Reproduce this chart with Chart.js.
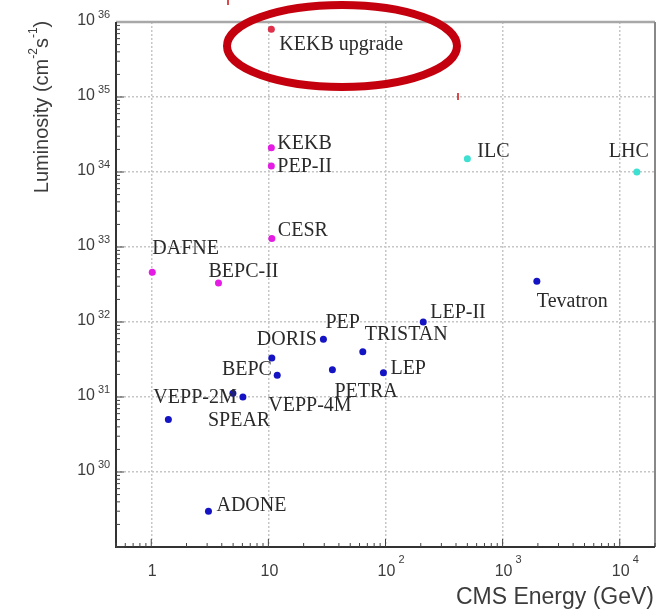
<!DOCTYPE html>
<html>
<head>
<meta charset="utf-8">
<script src="https://cdn.jsdelivr.net/npm/chart.js@4.4.1/dist/chart.umd.min.js"></script>
<style>
  html,body{margin:0;padding:0;background:#fff;}
  #wrap{width:669px;height:609px;}
</style>
</head>
<body>
<div id="wrap"><canvas id="lumiChart" width="669" height="609"></canvas></div>
<script>
// ===== data (energy in GeV, luminosity in cm^-2 s^-1) =====
const upgradeNames  = ["KEKB upgrade"];
const upgradeEnergy = [10.6];
const upgradeLumi   = [8e35];

const factoryNames  = ["KEKB","PEP-II","CESR","DAFNE","BEPC-II"];
const factoryEnergy = [10.6,10.6,10.7,1.02,3.75];
const factoryLumi   = [2.1e34,1.2e34,1.3e33,4.6e32,3.3e32];

const pastNames  = ["DORIS","VEPP-4M","BEPC","SPEAR","VEPP-2M","PEP","TRISTAN","PETRA","LEP","LEP-II","Tevatron","ADONE"];
const pastEnergy = [10.7,11.9,6.06,4.98,1.4,29.5,64,35.2,96,210,1960,3.08];
const pastLumi   = [3.3e31,1.95e31,1.0e31,1.12e31,5e30,5.9e31,4e31,2.3e31,2.1e31,1e32,3.5e32,3e29];

const futureNames  = ["ILC","LHC"];
const futureEnergy = [500,14000];
const futureLumi   = [1.5e34,1e34];

// tick labels: [base, exponent]
const xTickValues = [1,10,100,1000,10000];
const xTickLabels = [["1",""],["10",""],["10","2"],["10","3"],["10","4"]];
const yTickExps   = [30,31,32,33,34,35,36];

// label placement next to each marker (px from the point: left edge, middle)
const labelOffsets = {
  "KEKB upgrade":[8,15], "KEKB":[6,-4], "PEP-II":[6,1], "CESR":[6,-8], "DAFNE":[0,-24], "BEPC-II":[-10,-11],
  "DORIS":[-15,-18], "VEPP-4M":[-9,31], "BEPC":[-21,-27], "SPEAR":[-25,27], "VEPP-2M":[-15,-22],
  "PEP":[2,-16], "TRISTAN":[2,-17], "PETRA":[2,22], "LEP":[7,-4], "LEP-II":[7,-9],
  "Tevatron":[0,21], "ADONE":[8,-5], "ILC":[10,-7], "LHC":[-28,-20]
};

function pts(xs, ys){ return xs.map((x,i)=>({x:x, y:ys[i]})); }

// =========== decorations: frame, inward ticks, labels, titles ============
const decor = {
  id: "decor",
  afterDatasetsDraw(chart){
    const ctx = chart.ctx;
    ctx.save();
    ctx.font = "20px 'Liberation Serif'";
    ctx.fillStyle = "#2a2a2a";
    ctx.textBaseline = "middle";
    ctx.textAlign = "left";
    chart.data.datasets.forEach((ds,di)=>{
      chart.getDatasetMeta(di).data.forEach((el,i)=>{
        const name = ds.names[i];
        const off = labelOffsets[name] || [6,0];
        ctx.fillText(name, el.x+off[0], el.y+off[1]);
      });
    });
    ctx.restore();
  },
  afterDraw(chart){
    const ctx = chart.ctx, a = chart.chartArea;
    const xs = chart.scales.x, ys = chart.scales.y;
    ctx.save();

    // frame
    ctx.lineWidth = 2.5; ctx.strokeStyle = "#a8a8a8";
    ctx.beginPath(); ctx.moveTo(a.left, a.top); ctx.lineTo(a.right, a.top); ctx.stroke();
    ctx.lineWidth = 2; ctx.strokeStyle = "#888";
    ctx.beginPath(); ctx.moveTo(a.right, a.top); ctx.lineTo(a.right, a.bottom); ctx.stroke();
    ctx.strokeStyle = "#333";
    ctx.beginPath(); ctx.moveTo(a.left, a.top); ctx.lineTo(a.left, a.bottom); ctx.lineTo(a.right, a.bottom); ctx.stroke();

    // inward minor/major ticks
    ctx.lineWidth = 1; ctx.strokeStyle = "#444";
    ctx.beginPath();
    for(let e=29;e<36;e++){
      for(let k=1;k<10;k++){
        const py = ys.getPixelForValue(k*Math.pow(10,e));
        const len = k===1 ? 8 : 4;
        ctx.moveTo(a.left, py); ctx.lineTo(a.left+len, py);
      }
    }
    for(let e=-1;e<5;e++){
      for(let k=1;k<10;k++){
        const v = k*Math.pow(10,e);
        if(v < xs.min || v > xs.max) continue;
        const px = xs.getPixelForValue(v);
        const len = k===1 ? 8 : 4;
        ctx.moveTo(px, a.bottom); ctx.lineTo(px, a.bottom-len);
      }
    }
    ctx.stroke();

    // y tick labels
    ctx.fillStyle = "#3c3c3c";
    ctx.textBaseline = "middle";
    yTickExps.forEach(e=>{
      const py = ys.getPixelForValue(Math.pow(10,e));
      ctx.font = "16px 'Liberation Sans'"; ctx.textAlign = "right";
      ctx.fillText("10", 95, py-1);
      ctx.font = "11px 'Liberation Sans'"; ctx.textAlign = "left";
      ctx.fillText(String(e), 98, py-7);
    });

    // x tick labels
    xTickValues.forEach((v,i)=>{
      const px = xs.getPixelForValue(v);
      const lab = xTickLabels[i];
      ctx.font = "16px 'Liberation Sans'"; ctx.textAlign = "center";
      ctx.fillText(lab[0], px+1, 572);
      if(lab[1]){
        const w = ctx.measureText(lab[0]).width;
        ctx.font = "11px 'Liberation Sans'"; ctx.textAlign = "left";
        ctx.fillText(lab[1], px+1+w/2+3, 560);
      }
    });

    // axis titles
    ctx.font = "23px 'Liberation Sans'";
    ctx.textAlign = "right"; ctx.textBaseline = "alphabetic";
    ctx.fillText("CMS Energy (GeV)", 654, 604);

    const parts = [["Luminosity (cm",0],["-2",1],["s",0],["-1",1],[")",0]];
    const big = "20px 'Liberation Sans'", small = "12px 'Liberation Sans'";
    let total = 0;
    parts.forEach(p=>{ ctx.font = p[1]?small:big; total += ctx.measureText(p[0]).width; });
    ctx.translate(42, 107 + total/2);
    ctx.rotate(-Math.PI/2);
    ctx.textAlign = "left"; ctx.textBaseline = "middle";
    let cx = 0;
    parts.forEach(p=>{
      ctx.font = p[1]?small:big;
      ctx.fillText(p[0], cx, p[1] ? -8 : 0);
      cx += ctx.measureText(p[0]).width;
    });
    ctx.setTransform(1,0,0,1,0,0);

    // red highlight
    ctx.strokeStyle = "#c4000e"; ctx.lineWidth = 8;
    ctx.beginPath(); ctx.ellipse(342, 46, 115, 41, 0, 0, Math.PI*2); ctx.stroke();
    ctx.lineWidth = 1.5; ctx.strokeStyle = "#d01010";
    ctx.beginPath();
    ctx.moveTo(228, 0); ctx.lineTo(228, 5);
    ctx.moveTo(458, 93); ctx.lineTo(458, 100);
    ctx.stroke();

    ctx.restore();
  }
};

// =========== Chart.js setup ============
const gridOpts = {
  color: "#c6c6c6",
  lineWidth: 1.5,
  drawTicks: false
};

new Chart(document.getElementById("lumiChart"), {
  type: "scatter",
  data: {
    datasets: [
      { names: factoryNames, data: pts(factoryEnergy, factoryLumi), backgroundColor: "#e41ce4", borderColor: "#e41ce4" },
      { names: pastNames, data: pts(pastEnergy, pastLumi), backgroundColor: "#1414c4", borderColor: "#1414c4" },
      { names: futureNames, data: pts(futureEnergy, futureLumi), backgroundColor: "#3ee0d2", borderColor: "#3ee0d2" },
      { names: upgradeNames, data: pts(upgradeEnergy, upgradeLumi), backgroundColor: "#e0304a", borderColor: "#e0304a" }
    ]
  },
  options: {
    responsive: false,
    animation: false,
    events: [],
    layout: { padding: { top: 22, right: 14, left: 0, bottom: 0 } },
    elements: { point: { radius: 3.5, borderWidth: 0 } },
    plugins: { legend: { display: false }, tooltip: { enabled: false } },
    scales: {
      x: {
        type: "logarithmic", min: 0.5, max: 20000, bounds: "data",
        grid: gridOpts,
        border: { display: false, dash: [2,2] },
        ticks: { display: false },
        afterBuildTicks: s => { s.ticks = xTickValues.map(v=>({value:v})); },
        afterFit: s => { s.height = 62; }
      },
      y: {
        type: "logarithmic", min: 1e29, max: 1e36, bounds: "data",
        grid: gridOpts,
        border: { display: false, dash: [2,2] },
        ticks: { display: false },
        afterBuildTicks: s => { s.ticks = yTickExps.map(e=>({value:Math.pow(10,e)})); },
        afterFit: s => { s.width = 116; }
      }
    }
  },
  plugins: [decor]
});
</script>
</body>
</html>
